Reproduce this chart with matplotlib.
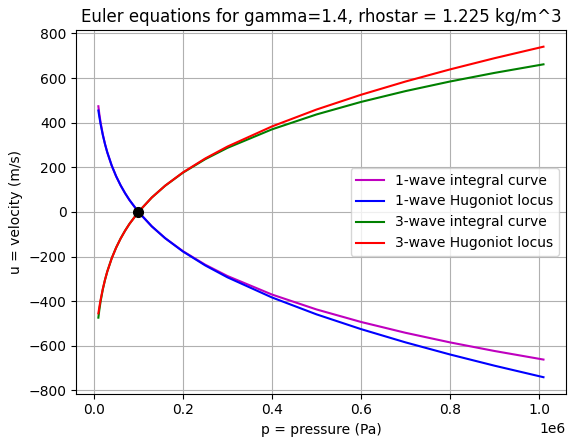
import matplotlib
matplotlib.use("Agg")
import matplotlib.pyplot as plt

# pressure samples (Pa)
p = [1.0e4, 1.2e4, 1.5e4, 2.0e4, 2.5e4, 3.0e4, 4.0e4, 5.0e4, 6.0e4, 7.0e4,
     8.0e4, 1.0e5, 1.3e5, 1.6e5, 2.0e5, 2.5e5, 3.0e5, 4.0e5, 5.0e5, 6.0e5,
     7.0e5, 8.0e5, 9.0e5, 1.01e6]

# 1-wave curves (velocity, m/s)
u1_integral = [473.8, 441.7, 401.2, 347.2, 303.7, 267.1, 207.4, 159.4, 119.0, 84.0,
               53.0, 0.0, -64.6, -117.4, -175.9, -236.4, -287.2, -370.2, -437.0, -493.1,
               -541.7, -584.7, -623.3, -661.7]
u1_hugoniot = [454.6, 428.7, 394.0, 344.6, 303.1, 267.3, 207.9, 159.7, 119.2, 84.1,
               53.1, 0.0, -64.6, -117.7, -177.2, -239.6, -293.1, -383.3, -459.0, -525.2,
               -584.6, -638.9, -689.2, -740.8]

# 3-wave curves are mirror images of the 1-wave ones
u3_integral = [-u for u in u1_integral]
u3_hugoniot = [-u for u in u1_hugoniot]

pstar = 1.0e5
ustar = 0.0

fig = plt.figure(figsize=(5.68, 4.37), dpi=100)
ax = fig.add_axes([0.134, 0.099, 0.862, 0.832])

ax.plot(p, u1_integral, 'm', label='1-wave integral curve')
ax.plot(p, u1_hugoniot, 'b', label='1-wave Hugoniot locus')
ax.plot(p, u3_integral, 'g', label='3-wave integral curve')
ax.plot(p, u3_hugoniot, 'r', label='3-wave Hugoniot locus')
ax.plot([pstar], [ustar], 'ko', markersize=7)

ax.set_xlabel('p = pressure (Pa)')
ax.set_ylabel('u = velocity (m/s)')
ax.set_title('Euler equations for gamma=1.4, rhostar = 1.225 kg/m^3')
ax.legend(loc='center right')
ax.grid(True)

fig.savefig('out.png', dpi=100)
